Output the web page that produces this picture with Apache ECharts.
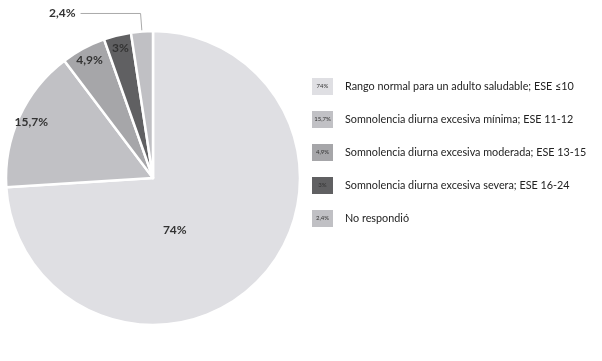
<!DOCTYPE html>
<html>
<head>
<meta charset="utf-8">
<script src="https://cdn.jsdelivr.net/npm/echarts@6/dist/echarts.min.js"></script>
<style>html,body{margin:0;padding:0;background:#fff}#c{width:602px;height:361px}</style>
</head>
<body>
<div id="c"></div>
<script>
var categories = [
  'Rango normal para un adulto saludable; ESE \u226410',
  'Somnolencia diurna excesiva m\u00ednima; ESE 11-12',
  'Somnolencia diurna excesiva moderada; ESE 13-15',
  'Somnolencia diurna excesiva severa; ESE 16-24',
  'No respondi\u00f3'
];
var values = [74, 15.7, 4.9, 3, 2.4];
var valueLabels = ['74%', '15,7%', '4,9%', '3%', '2,4%'];
var colors = ['#dfdfe3', '#c1c1c5', '#a6a6a9', '#606062', '#c0c0c4'];

var FONT = 'Lato';
var chart = echarts.init(document.getElementById('c'));

var mainData = values.map(function (v, i) {
  var d = { name: categories[i], value: v, itemStyle: { color: colors[i] } };
  if (i === 0) {
    d.label = { show: true, position: 'inside', offset: [-34, 0] };
  } else if (i === 4) {
    d.label = { show: true, position: 'outside' };
    d.labelLine = { show: true };
  } else {
    d.label = { show: false };
  }
  return d;
});
var labelData = values.map(function (v, i) {
  return { name: categories[i], value: v, label: { show: i > 0 && i < 4 } };
});

var rich = {};
colors.forEach(function (c, i) {
  rich['b' + i] = { width: 21, height: 17, backgroundColor: c, align: 'center', fontSize: 6, color: '#333', fontFamily: FONT };
});
rich.t = { fontSize: 10.8, color: '#222', padding: [0, 0, 0, 12], fontFamily: FONT };

chart.setOption({
  animation: false,
  legend: {
    orient: 'vertical',
    left: 302,
    top: 73,
    icon: 'none',
    itemWidth: 0,
    itemHeight: 17,
    itemGap: 16,
    data: categories,
    formatter: function (name) {
      var i = categories.indexOf(name);
      return '{b' + i + '|' + valueLabels[i] + '}{t|' + name + '}';
    },
    textStyle: { rich: rich }
  },
  series: [
    {
      type: 'pie',
      center: [153, 178],
      radius: [0, 147],
      startAngle: 90,
      clockwise: true,
      avoidLabelOverlap: false,
      itemStyle: { borderColor: '#fff', borderWidth: 2.5 },
      label: {
        fontFamily: FONT, fontSize: 12, fontWeight: 'bold', color: '#333',
        formatter: function (p) { return valueLabels[p.dataIndex]; }
      },
      labelLine: { length: 18, length2: 60, lineStyle: { color: '#aaa', width: 1 } },
      emphasis: { disabled: true },
      data: mainData
    },
    {
      type: 'pie',
      center: [153, 178],
      radius: [0, 262],
      startAngle: 90,
      clockwise: true,
      silent: true,
      avoidLabelOverlap: false,
      itemStyle: { color: 'rgba(0,0,0,0)' },
      label: {
        position: 'inside',
        fontFamily: FONT, fontSize: 12, fontWeight: 'bold', color: '#333',
        formatter: function (p) { return valueLabels[p.dataIndex]; }
      },
      labelLine: { show: false },
      emphasis: { disabled: true },
      data: labelData,
      z: 3
    }
  ]
});
</script>
</body>
</html>
